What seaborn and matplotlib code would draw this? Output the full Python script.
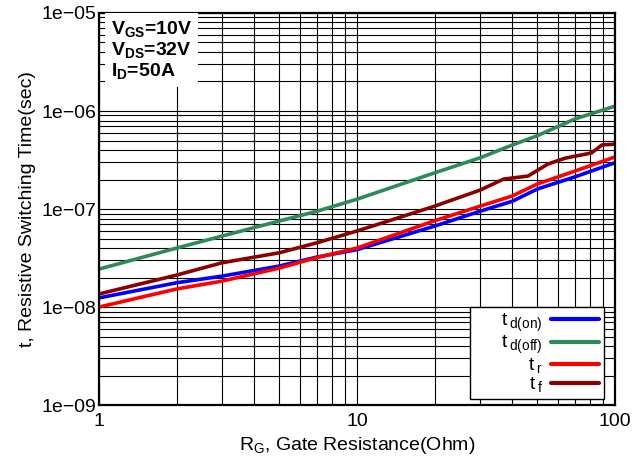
import matplotlib
matplotlib.use("Agg")
import matplotlib.pyplot as plt
import numpy as np
import pandas as pd
import seaborn as sns
from matplotlib.ticker import FixedLocator, FixedFormatter, LogLocator, NullFormatter
from matplotlib.lines import Line2D

# ---- data ----
rg_common = [1, 2, 3, 5, 7, 10, 20, 30, 40, 50, 70, 100]
td_on = [1.24e-8, 1.77e-8, 2.07e-8, 2.62e-8, 3.24e-8, 3.85e-8, 6.7e-8, 9.5e-8, 1.2e-7, 1.6e-7, 2.13e-7, 2.97e-7]
td_off = [2.44e-8, 4.0e-8, 5.3e-8, 7.55e-8, 9.5e-8, 1.26e-7, 2.34e-7, 3.33e-7, 4.5e-7, 5.6e-7, 8.3e-7, 1.12e-6]
tr = [1.0e-8, 1.53e-8, 1.84e-8, 2.5e-8, 3.2e-8, 4.0e-8, 7.6e-8, 1.07e-7, 1.36e-7, 1.8e-7, 2.44e-7, 3.4e-7]
rg_tf = [1, 2, 3, 5, 7, 10, 20, 30, 37, 46, 55, 64, 81, 89, 100]
tf = [1.36e-8, 2.12e-8, 2.83e-8, 3.58e-8, 4.53e-8, 5.97e-8, 1.07e-7, 1.56e-7, 2.02e-7, 2.17e-7, 2.88e-7, 3.3e-7, 3.73e-7, 4.5e-7, 4.6e-7]

series_names = ["td_on", "td_off", "tr", "tf"]
legend_labels = [r"$\mathregular{\quad\ \ t\,{}_{d(on)}}$", r"$\mathregular{\quad\ \ t\,{}_{d(off)}}$",
                 r"$\mathregular{\quad\ \ t\,{}_{r}}$", r"$\mathregular{\quad\ \ t\,{}_{f}}$"]
colors = ["#0000ff", "#2e8b57", "#ff0000", "#8b0000"]

x_ticks = [1, 10, 100]
x_tick_labels = ["1", "10", "100"]
y_ticks = [1e-9, 1e-8, 1e-7, 1e-6, 1e-5]
y_tick_labels = ["1e\u221209", "1e\u221208", "1e\u221207", "1e\u221206", "1e\u221205"]

annotation_lines = [r"V$\mathbf{_{GS}}$=10V", r"V$\mathbf{_{DS}}$=32V", r"I$\mathbf{_{D}}$=50A"]

frames = []
for name, xs, ys in [("td_on", rg_common, td_on), ("td_off", rg_common, td_off),
                     ("tr", rg_common, tr), ("tf", rg_tf, tf)]:
    frames.append(pd.DataFrame({"RG": xs, "t": ys, "series": name}))
df = pd.concat(frames, ignore_index=True)

sns.set_style("white")
plt.rcParams["font.family"] = ["Liberation Sans", "DejaVu Sans"]
plt.rcParams["mathtext.fontset"] = "custom"
plt.rcParams["mathtext.rm"] = "Liberation Sans"
plt.rcParams["mathtext.it"] = "Liberation Sans"
plt.rcParams["mathtext.bf"] = "Liberation Sans:bold"
plt.rcParams["text.color"] = "black"
plt.rcParams["axes.labelcolor"] = "black"
plt.rcParams["xtick.color"] = "black"
plt.rcParams["ytick.color"] = "black"

fig = plt.figure(figsize=(6.34, 4.63), dpi=100)
ax = fig.add_axes([0.156, 0.125, 0.814, 0.847])

ax.set_xscale("log")
ax.set_yscale("log")
ax.set_xlim(1, 100)
ax.set_ylim(1e-9, 1e-5)

# grid
ax.grid(True, which="both", color="black", linewidth=0.8, zorder=0)
ax.set_axisbelow(True)

sns.lineplot(data=df, x="RG", y="t", hue="series", hue_order=series_names,
             palette=dict(zip(series_names, colors)), linewidth=2.6,
             legend=False, ax=ax, sort=True, estimator=None, zorder=3)

ax.xaxis.set_major_locator(FixedLocator(x_ticks))
ax.xaxis.set_major_formatter(FixedFormatter(x_tick_labels))
ax.xaxis.set_minor_locator(LogLocator(base=10, subs=np.arange(2, 10)))
ax.xaxis.set_minor_formatter(NullFormatter())
ax.yaxis.set_major_locator(FixedLocator(y_ticks))
ax.yaxis.set_major_formatter(FixedFormatter(y_tick_labels))
ax.yaxis.set_minor_locator(LogLocator(base=10, subs=np.arange(2, 10), numticks=20))
ax.yaxis.set_minor_formatter(NullFormatter())
ax.tick_params(which="both", direction="in", length=4, width=0.8, labelsize=14, pad=2)
ax.tick_params(axis="x", pad=6)

for s in ax.spines.values():
    s.set_linewidth(1.6)
    s.set_color("black")
    s.set_zorder(5)

ax.set_xlabel(r"R$\mathregular{_G}$, Gate Resistance(Ohm)", fontsize=14, labelpad=3)
ax.set_ylabel("t, Resistive Switching Time(sec)", fontsize=14, labelpad=4)

# annotation box (white, no border) in the top-left corner
ax.text(0.024, 0.985, "\n".join(annotation_lines), transform=ax.transAxes,
        ha="left", va="top", fontsize=14, fontweight="bold", linespacing=1.08, zorder=6,
        bbox=dict(boxstyle="square,pad=0.3", facecolor="white", edgecolor="none"))

handles = [Line2D([], [], color=c, linewidth=3) for c in colors]
leg = ax.legend(handles, legend_labels, loc="lower right", markerfirst=False,
                fontsize=14, frameon=True, fancybox=False, handlelength=2.5,
                borderpad=0.25, labelspacing=0.0, handletextpad=0.4,
                borderaxespad=0.0, bbox_to_anchor=(0.979, 0.015))
leg.get_frame().set_edgecolor("black")
leg.get_frame().set_linewidth(1.0)
leg.get_frame().set_alpha(1.0)
leg.set_zorder(7)

fig.savefig("out.png", dpi=100)
